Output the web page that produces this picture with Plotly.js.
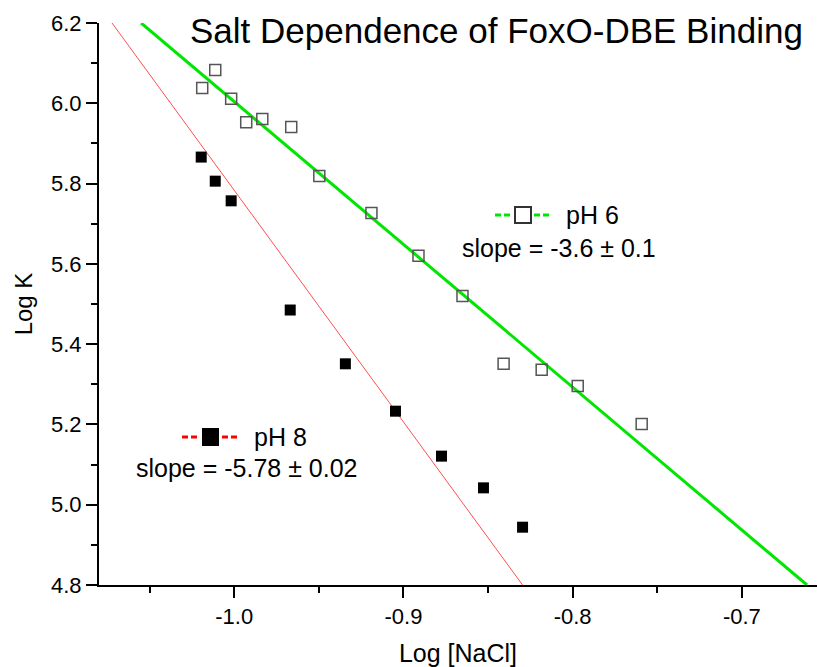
<!DOCTYPE html>
<html>
<head>
<meta charset="utf-8">
<script src="https://cdn.plot.ly/plotly-3.0.1.min.js"></script>
<style>html,body{margin:0;padding:0;background:#fff;}#chart{width:817px;height:667px;}</style>
</head>
<body>
<div id="chart"></div>
<script>
// pH 6 (open squares)
const ph6X = [-1.0189, -1.0112, -1.0018, -0.9929, -0.9834, -0.9663, -0.9497, -0.9189, -0.8911, -0.8651, -0.8408, -0.8183, -0.7970, -0.7592];
const ph6Y = [6.038, 6.083, 6.011, 5.953, 5.961, 5.941, 5.819, 5.727, 5.620, 5.520, 5.351, 5.336, 5.296, 5.201];
// pH 8 (filled squares)
const ph8X = [-1.0195, -1.0112, -1.0018, -0.9669, -0.9343, -0.9047, -0.8775, -0.8527, -0.8296];
const ph8Y = [5.866, 5.806, 5.757, 5.485, 5.351, 5.233, 5.121, 5.042, 4.944];
// linear fits (end points)
const fit6X = [-1.0550, -0.6615];
const fit6Y = [6.2, 4.8];
const fit8X = [-1.0722, -0.8296];
const fit8Y = [6.2, 4.8];
// tick labels
const xTickVals = [-1.0, -0.9, -0.8, -0.7];
const xTickText = ["-1.0", "-0.9", "-0.8", "-0.7"];
const yTickVals = [4.8, 5.0, 5.2, 5.4, 5.6, 5.8, 6.0, 6.2];
const yTickText = ["4.8", "5.0", "5.2", "5.4", "5.6", "5.8", "6.0", "6.2"];

const FONT = "Liberation Sans, Arial, sans-serif";
const GREEN = "rgb(0,230,0)";
const RED = "rgb(255,80,80)";
const LEG_RED = "rgb(255,0,0)";

// plot area in pixels (for placing legend graphics)
const PL = 99, PW = 718, PT = 23, PH = 562;
const px = v => (v - PL) / PW;
const py = v => (PT + PH - v) / PH;

const traces = [
  {x: fit8X, y: fit8Y, mode: "lines", line: {color: RED, width: 1}, showlegend: false, hoverinfo: "skip"},
  {x: fit6X, y: fit6Y, mode: "lines", line: {color: GREEN, width: 3}, showlegend: false, hoverinfo: "skip"},
  {x: ph6X, y: ph6Y, mode: "markers", name: "pH 6",
   marker: {symbol: "square-open", size: 11, color: "#555", line: {width: 1.5, color: "#555"}}, showlegend: false},
  {x: ph8X, y: ph8Y, mode: "markers", name: "pH 8",
   marker: {symbol: "square", size: 11, color: "#000"}, showlegend: false}
];

function dashSeg(x0, x1, yc, color) {
  return {type: "line", xref: "paper", yref: "paper", x0: px(x0), x1: px(x1), y0: py(yc), y1: py(yc),
          line: {color: color, width: 3, dash: "6px,3px"}};
}
function box(x0, x1, y0, y1, fill, lineColor, lw) {
  return {type: "rect", xref: "paper", yref: "paper", x0: px(x0), x1: px(x1), y0: py(y1), y1: py(y0),
          fillcolor: fill, line: {color: lineColor, width: lw}};
}

const shapes = [
  dashSeg(495, 511, 215, GREEN),
  box(515, 531, 207, 223, "rgba(0,0,0,0)", "#333", 2),
  dashSeg(534, 550, 215, GREEN),
  dashSeg(182, 198, 437, LEG_RED),
  box(202, 219, 428, 446, "#000", "#000", 0),
  dashSeg(222, 238, 437, LEG_RED)
];

const layout = {
  width: 817, height: 667,
  margin: {l: 99, r: 0, t: 23, b: 82},
  paper_bgcolor: "#fff", plot_bgcolor: "#fff",
  font: {family: FONT, color: "#000"},
  showlegend: false,
  xaxis: {
    range: [-1.0799, -0.6556], showgrid: false, zeroline: false,
    showline: true, linecolor: "#000", linewidth: 2,
    ticks: "outside", ticklen: 11, tickwidth: 2, tickcolor: "#000",
    tickvals: xTickVals, ticktext: xTickText,
    tickfont: {size: 22, family: FONT, color: "#000"},
    minor: {dtick: 0.05, tick0: 0, ticks: "outside", ticklen: 6, tickwidth: 2, tickcolor: "#000", showgrid: false},
    title: {text: "Log [NaCl]", font: {size: 25, family: FONT, color: "#000"}, standoff: 18},
    automargin: false
  },
  yaxis: {
    range: [4.8, 6.2], showgrid: false, zeroline: false,
    showline: true, linecolor: "#000", linewidth: 2,
    ticks: "outside", ticklen: 11, tickwidth: 2, tickcolor: "#000",
    tickvals: yTickVals, ticktext: yTickText,
    tickfont: {size: 22, family: FONT, color: "#000"},
    minor: {dtick: 0.1, tick0: 0, ticks: "outside", ticklen: 6, tickwidth: 2, tickcolor: "#000", showgrid: false},
    title: {text: "Log K", font: {size: 24, family: FONT, color: "#000"}, standoff: 12},
    automargin: false
  },
  shapes: shapes,
  annotations: [
    {text: "Salt Dependence of FoxO-DBE Binding", xref: "paper", yref: "paper", x: 0.553, y: 0.9875,
     xanchor: "center", yanchor: "middle", showarrow: false, font: {size: 35, family: FONT, color: "#000"}},
    {text: "pH 6", xref: "paper", yref: "paper", x: px(564), y: py(215), xanchor: "left", yanchor: "middle",
     showarrow: false, font: {size: 25, family: FONT, color: "#000"}},
    {text: "slope = -3.6 \u00B1 0.1", xref: "paper", yref: "paper", x: px(558.5), y: py(248),
     xanchor: "center", yanchor: "middle", showarrow: false, font: {size: 25, family: FONT, color: "#000"}},
    {text: "pH 8", xref: "paper", yref: "paper", x: px(252), y: py(437), xanchor: "left", yanchor: "middle",
     showarrow: false, font: {size: 25, family: FONT, color: "#000"}},
    {text: "slope = -5.78 \u00B1 0.02", xref: "paper", yref: "paper", x: px(247), y: py(468),
     xanchor: "center", yanchor: "middle", showarrow: false, font: {size: 25, family: FONT, color: "#000"}}
  ]
};

Plotly.newPlot("chart", traces, layout, {displayModeBar: false, staticPlot: true});
</script>
</body>
</html>
